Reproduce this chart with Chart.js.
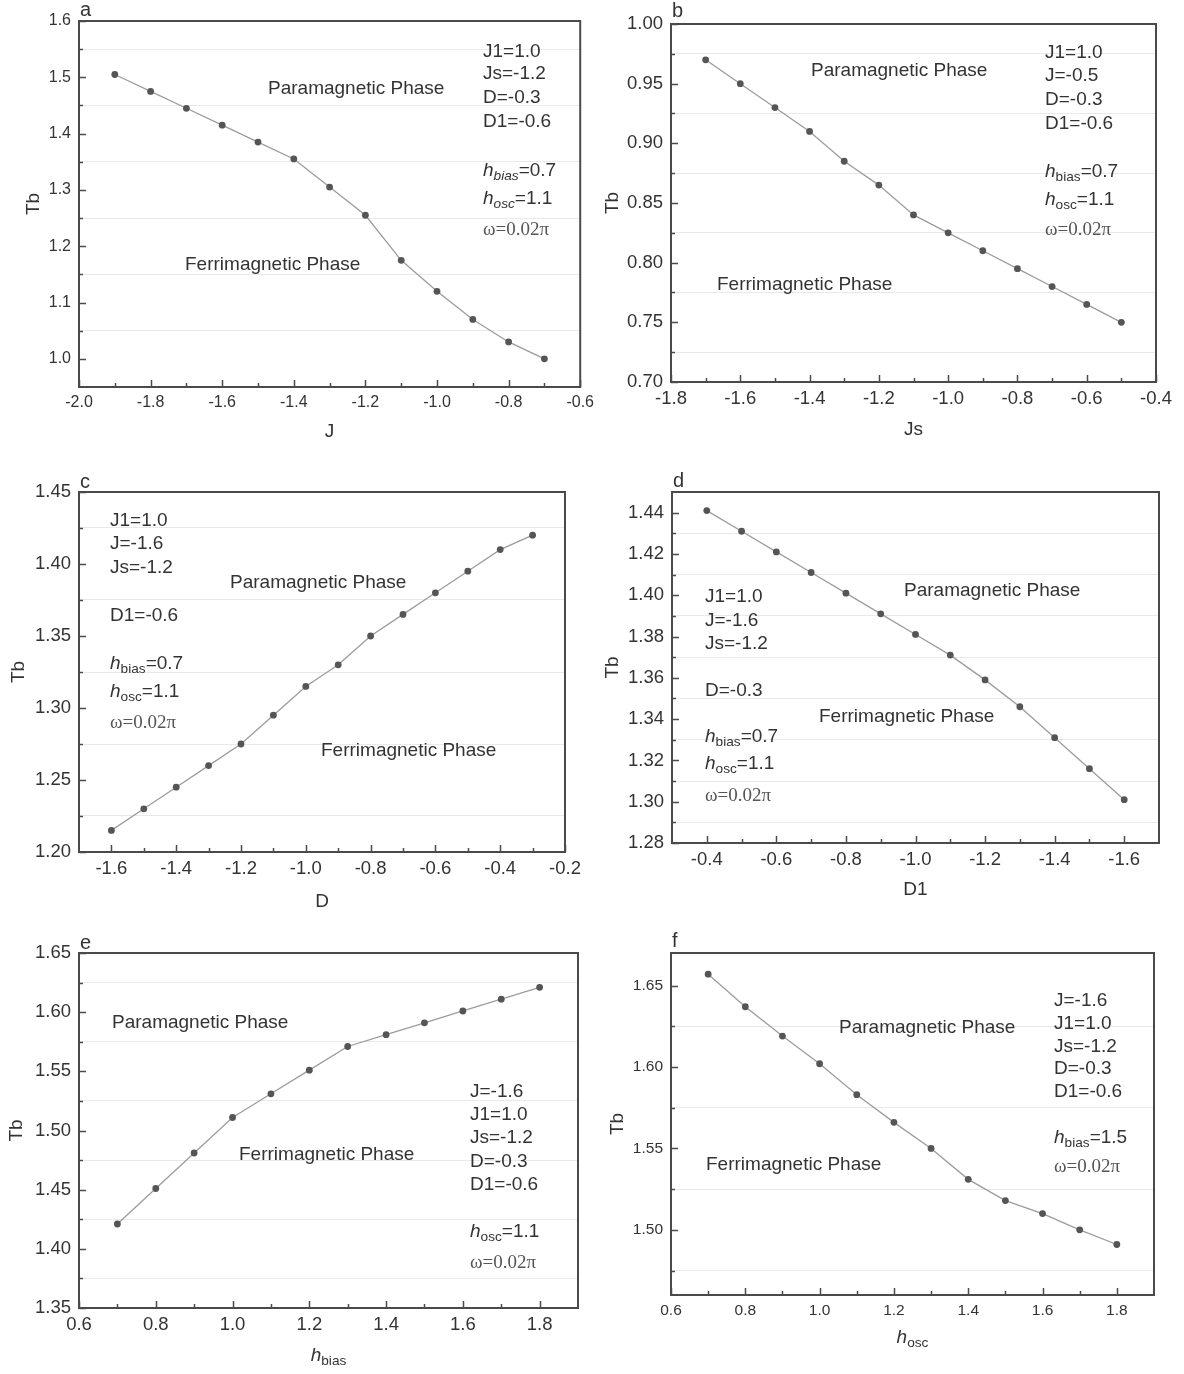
<!DOCTYPE html>
<html>
<head>
<meta charset="utf-8">
<script src="https://cdn.jsdelivr.net/npm/chart.js@4.4.1/dist/chart.umd.min.js"></script>
<style>
  html, body { margin: 0; padding: 0; background: #fff; }
  #wrap { position: relative; width: 1184px; height: 1374px; overflow: hidden; background: #fff; }
  #wrap canvas { position: absolute; }
</style>
</head>
<body>
<div id="wrap">
  <canvas id="pa" width="600" height="460" style="left:0;top:0"></canvas>
  <canvas id="pb" width="600" height="460" style="left:584px;top:0"></canvas>
  <canvas id="pc" width="600" height="460" style="left:0;top:460px"></canvas>
  <canvas id="pd" width="600" height="460" style="left:584px;top:460px"></canvas>
  <canvas id="pe" width="600" height="454" style="left:0;top:920px"></canvas>
  <canvas id="pf" width="600" height="454" style="left:584px;top:920px"></canvas>
</div>
<script>
const SANS = "'Liberation Sans', Arial, sans-serif";
const SERIF = "'Liberation Serif', 'Times New Roman', serif";
Chart.defaults.font.family = SANS;
Chart.defaults.color = '#333';

// --- Data ---
// a: Tb vs J
const aJ = [-1.9, -1.8, -1.7, -1.6, -1.5, -1.4, -1.3, -1.2, -1.1, -1.0, -0.9, -0.8, -0.7];
const aTb = [1.505, 1.475, 1.445, 1.415, 1.385, 1.355, 1.305, 1.255, 1.175, 1.12, 1.07, 1.03, 1.0];
const aXMajor = [-2.0, -1.8, -1.6, -1.4, -1.2, -1.0, -0.8, -0.6];
const aXMinor = [-1.9, -1.7, -1.5, -1.3, -1.1, -0.9, -0.7];
const aYMajor = [1.0, 1.1, 1.2, 1.3, 1.4, 1.5, 1.6];
const aYMinor = [1.05, 1.15, 1.25, 1.35, 1.45, 1.55];

// b: Tb vs Js
const bJs = [-1.7, -1.6, -1.5, -1.4, -1.3, -1.2, -1.1, -1.0, -0.9, -0.8, -0.7, -0.6, -0.5];
const bTb = [0.970, 0.950, 0.930, 0.910, 0.885, 0.865, 0.840, 0.825, 0.810, 0.795, 0.780, 0.765, 0.750];
const bXMajor = [-1.8, -1.6, -1.4, -1.2, -1.0, -0.8, -0.6, -0.4];
const bXMinor = [-1.7, -1.5, -1.3, -1.1, -0.9, -0.7, -0.5];
const bYMajor = [0.70, 0.75, 0.80, 0.85, 0.90, 0.95, 1.00];
const bYMinor = [0.725, 0.775, 0.825, 0.875, 0.925, 0.975];

// c: Tb vs D
const cD = [-1.6, -1.5, -1.4, -1.3, -1.2, -1.1, -1.0, -0.9, -0.8, -0.7, -0.6, -0.5, -0.4, -0.3];
const cTb = [1.215, 1.230, 1.245, 1.260, 1.275, 1.295, 1.315, 1.330, 1.350, 1.365, 1.380, 1.395, 1.410, 1.420];
const cXMajor = [-1.6, -1.4, -1.2, -1.0, -0.8, -0.6, -0.4, -0.2];
const cXMinor = [-1.5, -1.3, -1.1, -0.9, -0.7, -0.5, -0.3];
const cYMajor = [1.20, 1.25, 1.30, 1.35, 1.40, 1.45];
const cYMinor = [1.225, 1.275, 1.325, 1.375, 1.425];

// d: Tb vs D1 (axis runs from -0.3 down to -1.7)
const dD1 = [-0.4, -0.5, -0.6, -0.7, -0.8, -0.9, -1.0, -1.1, -1.2, -1.3, -1.4, -1.5, -1.6];
const dTb = [1.441, 1.431, 1.421, 1.411, 1.401, 1.391, 1.381, 1.371, 1.359, 1.346, 1.331, 1.316, 1.301];
const dXMajor = [-0.4, -0.6, -0.8, -1.0, -1.2, -1.4, -1.6];
const dXMinor = [-0.5, -0.7, -0.9, -1.1, -1.3, -1.5];
const dYMajor = [1.28, 1.30, 1.32, 1.34, 1.36, 1.38, 1.40, 1.42, 1.44];
const dYMinor = [1.29, 1.31, 1.33, 1.35, 1.37, 1.39, 1.41, 1.43];

// e: Tb vs h_bias
const eHbias = [0.7, 0.8, 0.9, 1.0, 1.1, 1.2, 1.3, 1.4, 1.5, 1.6, 1.7, 1.8];
const eTb = [1.421, 1.451, 1.481, 1.511, 1.531, 1.551, 1.571, 1.581, 1.591, 1.601, 1.611, 1.621];
const eXMajor = [0.6, 0.8, 1.0, 1.2, 1.4, 1.6, 1.8];
const eXMinor = [0.7, 0.9, 1.1, 1.3, 1.5, 1.7];
const eYMajor = [1.35, 1.40, 1.45, 1.50, 1.55, 1.60, 1.65];
const eYMinor = [1.375, 1.425, 1.475, 1.525, 1.575, 1.625];

// f: Tb vs h_osc
const fHosc = [0.7, 0.8, 0.9, 1.0, 1.1, 1.2, 1.3, 1.4, 1.5, 1.6, 1.7, 1.8];
const fTb = [1.657, 1.637, 1.619, 1.602, 1.583, 1.566, 1.550, 1.531, 1.518, 1.510, 1.500, 1.491];
const fXMajor = [0.6, 0.8, 1.0, 1.2, 1.4, 1.6, 1.8];
const fXMinor = [0.7, 0.9, 1.1, 1.3, 1.5, 1.7];
const fYMajor = [1.50, 1.55, 1.60, 1.65];
const fYMinor = [1.475, 1.525, 1.575, 1.625];

// --- Rich text helpers (italic / subscript pieces) ---
const plain = (s) => [[s, '']];
const hSub = (sub, val, italicSub) => [['h', 'i'], [sub, italicSub ? 'is' : 's'], [val, '']];

function richFont(style, size, family) {
  const fs = style.includes('s') ? size * 0.72 : size;
  return `${style.includes('i') ? 'italic ' : ''}${fs}px ${family}`;
}
function measureRich(ctx, parts, size, family) {
  let w = 0;
  parts.forEach(([txt, style]) => { ctx.font = richFont(style, size, family); w += ctx.measureText(txt).width; });
  return w;
}
function drawRich(ctx, x, y, parts, size, family) {
  let cx = x;
  parts.forEach(([txt, style]) => {
    ctx.font = richFont(style, size, family);
    ctx.fillText(txt, cx, style.includes('s') ? y + size * 0.3 : y);
    cx += ctx.measureText(txt).width;
  });
}

// --- Frame, inward ticks, panel letter, axis titles and labels ---
const panelDeco = {
  id: 'panelDeco',
  afterDraw(chart, args, o) {
    const { ctx, chartArea: a, scales } = chart;
    ctx.save();
    ctx.strokeStyle = '#4a4a4a';
    ctx.lineWidth = 1.5;
    scales.x.ticks.forEach(t => {
      const px = Math.round(scales.x.getPixelForValue(t.value)) + 0.5;
      const len = t.label === '' ? 4 : 7;
      ctx.beginPath(); ctx.moveTo(px, a.bottom); ctx.lineTo(px, a.bottom - len); ctx.stroke();
    });
    scales.y.ticks.forEach(t => {
      const py = Math.round(scales.y.getPixelForValue(t.value)) + 0.5;
      const len = t.label === '' ? 4 : 7;
      ctx.beginPath(); ctx.moveTo(a.left, py); ctx.lineTo(a.left + len, py); ctx.stroke();
    });
    ctx.lineWidth = 2;
    ctx.strokeRect(a.left, a.top, a.right - a.left, a.bottom - a.top);

    ctx.fillStyle = '#333';
    ctx.textBaseline = 'middle';
    ctx.textAlign = 'left';
    ctx.font = `20px ${SANS}`;
    ctx.fillText(o.letter, a.left + 1, a.top + o.letterDy);

    // y title
    ctx.save();
    ctx.translate(a.left + o.yTitleDx, (a.top + a.bottom) / 2);
    ctx.rotate(-Math.PI / 2);
    ctx.textAlign = 'center';
    ctx.font = `19px ${SANS}`;
    ctx.fillText('Tb', 0, 0);
    ctx.restore();

    // x title
    const w = measureRich(ctx, o.xTitle, 19, SANS);
    ctx.textAlign = 'left';
    drawRich(ctx, (a.left + a.right) / 2 - w / 2, a.bottom + o.xTitleDy, o.xTitle, 19, SANS);

    // labels inside the plot
    o.texts.forEach(item => {
      const serif = item.serif;
      ctx.fillStyle = serif ? '#555' : '#333';
      drawRich(ctx, a.left + item.dx, a.top + item.dy, item.parts, 19, serif ? SERIF : SANS);
    });
    ctx.restore();
  }
};

function makePanel(id, p) {
  const isMajor = (list, v) => list.some(m => Math.abs(m - v) < 1e-9);
  new Chart(document.getElementById(id), {
    type: 'line',
    data: {
      datasets: [{
        data: p.xs.map((x, i) => ({ x, y: p.ys[i] })),
        borderColor: '#9c9c9c',
        borderWidth: 1.3,
        pointRadius: 3.4,
        pointBackgroundColor: '#555',
        pointBorderColor: '#555',
        pointBorderWidth: 0,
        tension: 0
      }]
    },
    options: {
      responsive: false,
      animation: false,
      events: [],
      layout: { padding: { left: 0, top: p.box.top, right: p.box.right, bottom: 0 } },
      plugins: {
        legend: { display: false },
        tooltip: { enabled: false },
        panelDeco: p.deco
      },
      scales: {
        x: {
          type: 'linear',
          min: p.xMin, max: p.xMax, reverse: !!p.reverse,
          afterBuildTicks: s => { s.ticks = [...p.xMajor, ...p.xMinor].sort((u, v) => u - v).map(value => ({ value })); },
          afterFit: s => { s.height = p.box.xH; },
          grid: { display: false, drawTicks: false },
          border: { display: false },
          ticks: {
            autoSkip: false, maxRotation: 0, minRotation: 0, padding: 6,
            color: '#333', font: { size: p.tickSize },
            callback: v => isMajor(p.xMajor, v) ? v.toFixed(1) : ''
          }
        },
        y: {
          type: 'linear',
          min: p.yMin, max: p.yMax,
          afterBuildTicks: s => { s.ticks = [...p.yMajor, ...p.yMinor].sort((u, v) => u - v).map(value => ({ value })); },
          afterFit: s => { s.width = p.box.left; },
          grid: {
            drawTicks: false, lineWidth: 1,
            color: c => (c.tick && c.tick.label === '') ? '#e9e9e9' : 'rgba(0,0,0,0)'
          },
          border: { display: false },
          ticks: {
            autoSkip: false, padding: 8,
            color: '#333', font: { size: p.tickSize },
            callback: v => isMajor(p.yMajor, v) ? v.toFixed(p.yDigits) : ''
          }
        }
      }
    },
    plugins: [panelDeco]
  });
}

makePanel('pa', {
  xs: aJ, ys: aTb, xMin: -2.0, xMax: -0.6, xMajor: aXMajor, xMinor: aXMinor,
  yMin: 0.95, yMax: 1.6, yMajor: aYMajor, yMinor: aYMinor, yDigits: 1, tickSize: 16,
  box: { left: 79, top: 21, right: 19, xH: 73 },
  deco: {
    letter: 'a', letterDy: -11, yTitleDx: -45, xTitleDy: 45, xTitle: plain('J'),
    texts: [
      { dx: 189, dy: 68, parts: plain('Paramagnetic Phase') },
      { dx: 106, dy: 244, parts: plain('Ferrimagnetic Phase') },
      { dx: 404, dy: 31, parts: plain('J1=1.0') },
      { dx: 404, dy: 53, parts: plain('Js=-1.2') },
      { dx: 404, dy: 77, parts: plain('D=-0.3') },
      { dx: 404, dy: 101, parts: plain('D1=-0.6') },
      { dx: 404, dy: 150, parts: hSub('bias', '=0.7', true) },
      { dx: 404, dy: 178, parts: hSub('osc', '=1.1', true) },
      { dx: 404, dy: 209, parts: plain('ω=0.02π'), serif: true }
    ]
  }
});

makePanel('pb', {
  xs: bJs, ys: bTb, xMin: -1.8, xMax: -0.4, xMajor: bXMajor, xMinor: bXMinor,
  yMin: 0.70, yMax: 1.00, yMajor: bYMajor, yMinor: bYMinor, yDigits: 2, tickSize: 18.5,
  box: { left: 87, top: 24, right: 28, xH: 78 },
  deco: {
    letter: 'b', letterDy: -13, yTitleDx: -58, xTitleDy: 48, xTitle: plain('Js'),
    texts: [
      { dx: 140, dy: 47, parts: plain('Paramagnetic Phase') },
      { dx: 46, dy: 261, parts: plain('Ferrimagnetic Phase') },
      { dx: 374, dy: 29, parts: plain('J1=1.0') },
      { dx: 374, dy: 52, parts: plain('J=-0.5') },
      { dx: 374, dy: 76, parts: plain('D=-0.3') },
      { dx: 374, dy: 100, parts: plain('D1=-0.6') },
      { dx: 374, dy: 148, parts: hSub('bias', '=0.7', false) },
      { dx: 374, dy: 176, parts: hSub('osc', '=1.1', false) },
      { dx: 374, dy: 206, parts: plain('ω=0.02π'), serif: true }
    ]
  }
});

makePanel('pc', {
  xs: cD, ys: cTb, xMin: -1.7, xMax: -0.2, xMajor: cXMajor, xMinor: cXMinor,
  yMin: 1.20, yMax: 1.45, yMajor: cYMajor, yMinor: cYMinor, yDigits: 2, tickSize: 18.5,
  box: { left: 79, top: 32, right: 35, xH: 68 },
  deco: {
    letter: 'c', letterDy: -10, yTitleDx: -60, xTitleDy: 50, xTitle: plain('D'),
    texts: [
      { dx: 151, dy: 91, parts: plain('Paramagnetic Phase') },
      { dx: 242, dy: 259, parts: plain('Ferrimagnetic Phase') },
      { dx: 31, dy: 29, parts: plain('J1=1.0') },
      { dx: 31, dy: 52, parts: plain('J=-1.6') },
      { dx: 31, dy: 76, parts: plain('Js=-1.2') },
      { dx: 31, dy: 124, parts: plain('D1=-0.6') },
      { dx: 31, dy: 172, parts: hSub('bias', '=0.7', false) },
      { dx: 31, dy: 200, parts: hSub('osc', '=1.1', false) },
      { dx: 31, dy: 231, parts: plain('ω=0.02π'), serif: true }
    ]
  }
});

makePanel('pd', {
  xs: dD1, ys: dTb, xMin: -1.7, xMax: -0.3, reverse: true, xMajor: dXMajor, xMinor: dXMinor,
  yMin: 1.28, yMax: 1.45, yMajor: dYMajor, yMinor: dYMinor, yDigits: 2, tickSize: 18.5,
  box: { left: 88, top: 32, right: 25, xH: 77 },
  deco: {
    letter: 'd', letterDy: -11, yTitleDx: -59, xTitleDy: 47, xTitle: plain('D1'),
    texts: [
      { dx: 232, dy: 99, parts: plain('Paramagnetic Phase') },
      { dx: 147, dy: 225, parts: plain('Ferrimagnetic Phase') },
      { dx: 33, dy: 105, parts: plain('J1=1.0') },
      { dx: 33, dy: 129, parts: plain('J=-1.6') },
      { dx: 33, dy: 152, parts: plain('Js=-1.2') },
      { dx: 33, dy: 199, parts: plain('D=-0.3') },
      { dx: 33, dy: 245, parts: hSub('bias', '=0.7', false) },
      { dx: 33, dy: 272, parts: hSub('osc', '=1.1', false) },
      { dx: 33, dy: 304, parts: plain('ω=0.02π'), serif: true }
    ]
  }
});

makePanel('pe', {
  xs: eHbias, ys: eTb, xMin: 0.6, xMax: 1.9, xMajor: eXMajor, xMinor: eXMinor,
  yMin: 1.35, yMax: 1.65, yMajor: eYMajor, yMinor: eYMinor, yDigits: 2, tickSize: 18.5,
  box: { left: 79, top: 33, right: 22, xH: 66 },
  deco: {
    letter: 'e', letterDy: -10, yTitleDx: -62, xTitleDy: 48, xTitle: hSub('bias', '', false),
    texts: [
      { dx: 33, dy: 70, parts: plain('Paramagnetic Phase') },
      { dx: 160, dy: 202, parts: plain('Ferrimagnetic Phase') },
      { dx: 391, dy: 139, parts: plain('J=-1.6') },
      { dx: 391, dy: 162, parts: plain('J1=1.0') },
      { dx: 391, dy: 185, parts: plain('Js=-1.2') },
      { dx: 391, dy: 209, parts: plain('D=-0.3') },
      { dx: 391, dy: 232, parts: plain('D1=-0.6') },
      { dx: 391, dy: 279, parts: hSub('osc', '=1.1', false) },
      { dx: 391, dy: 310, parts: plain('ω=0.02π'), serif: true }
    ]
  }
});

makePanel('pf', {
  xs: fHosc, ys: fTb, xMin: 0.6, xMax: 1.9, xMajor: fXMajor, xMinor: fXMinor,
  yMin: 1.46, yMax: 1.67, yMajor: fYMajor, yMinor: fYMinor, yDigits: 2, tickSize: 15.5,
  box: { left: 87, top: 33, right: 30, xH: 79 },
  deco: {
    letter: 'f', letterDy: -12, yTitleDx: -53, xTitleDy: 43, xTitle: hSub('osc', '', false),
    texts: [
      { dx: 168, dy: 75, parts: plain('Paramagnetic Phase') },
      { dx: 35, dy: 212, parts: plain('Ferrimagnetic Phase') },
      { dx: 383, dy: 48, parts: plain('J=-1.6') },
      { dx: 383, dy: 71, parts: plain('J1=1.0') },
      { dx: 383, dy: 94, parts: plain('Js=-1.2') },
      { dx: 383, dy: 116, parts: plain('D=-0.3') },
      { dx: 383, dy: 139, parts: plain('D1=-0.6') },
      { dx: 383, dy: 185, parts: hSub('bias', '=1.5', false) },
      { dx: 383, dy: 214, parts: plain('ω=0.02π'), serif: true }
    ]
  }
});
</script>
</body>
</html>
